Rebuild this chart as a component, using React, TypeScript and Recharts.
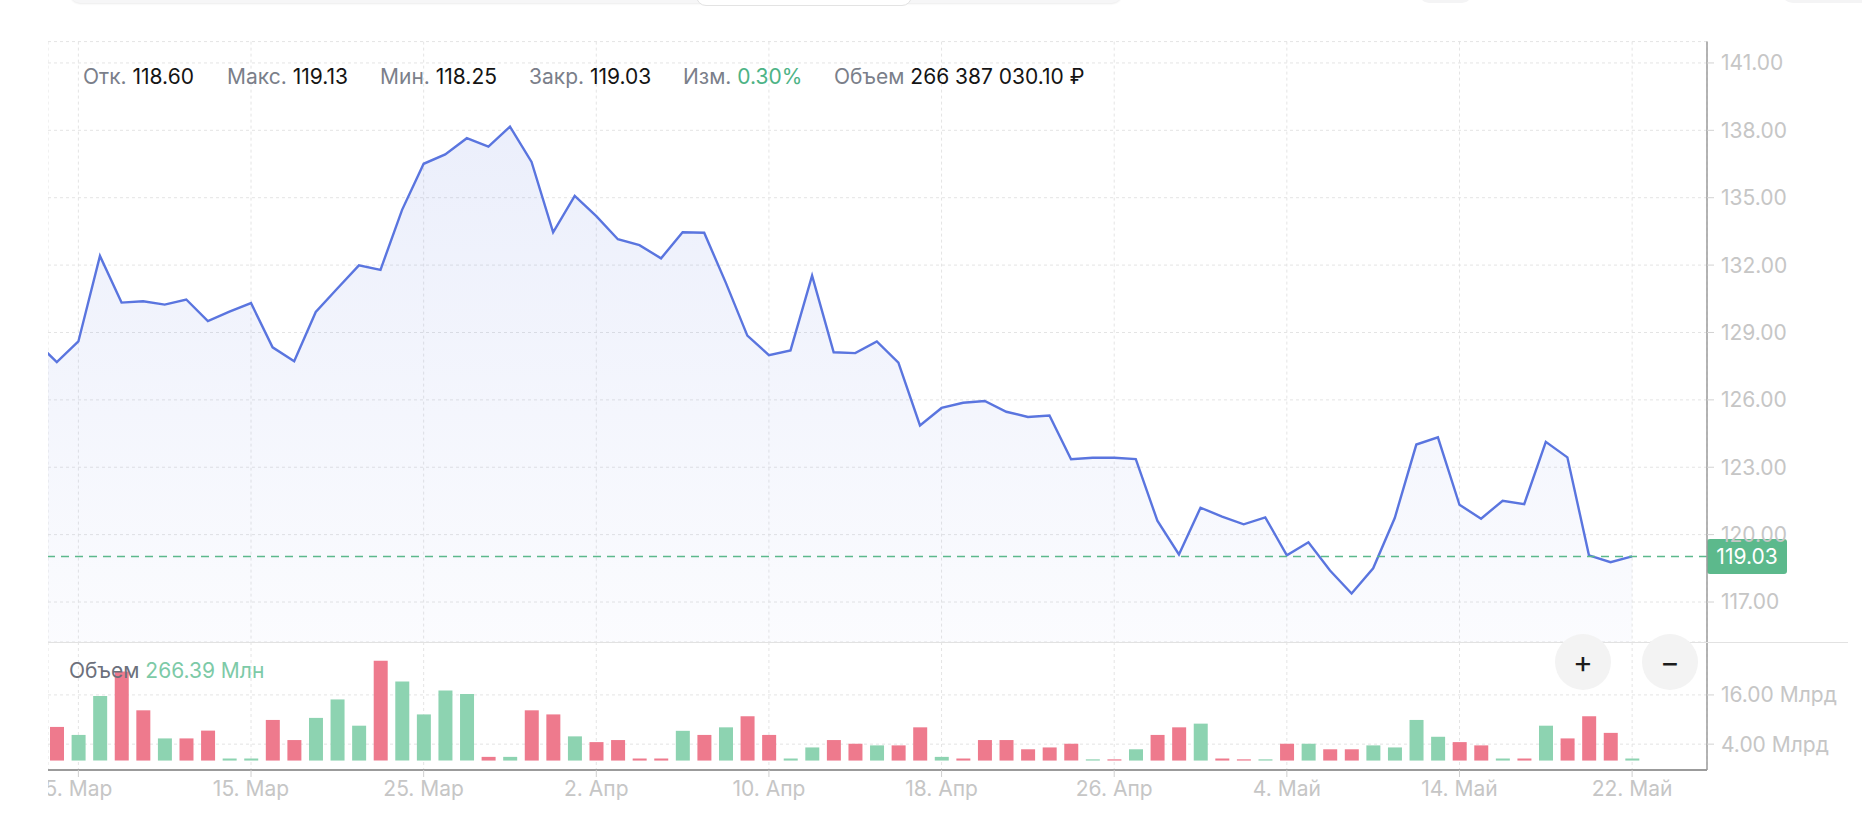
import React from 'react';
import { AreaChart, Area, BarChart, Bar, Cell, XAxis, YAxis, CartesianGrid, ReferenceLine } from 'recharts';

// ---------- data ----------
const dates = [
  '3. Мар', '4. Мар', '5. Мар', '6. Мар', '9. Мар', '10. Мар', '11. Мар', '12. Мар', '13. Мар', '14. Мар',
  '15. Мар', '16. Мар', '17. Мар', '18. Мар', '19. Мар', '20. Мар', '23. Мар', '24. Мар', '25. Мар', '26. Мар',
  '27. Мар', '28. Мар', '29. Мар', '30. Мар', '31. Мар', '1. Апр', '2. Апр', '3. Апр', '4. Апр', '5. Апр',
  '6. Апр', '7. Апр', '8. Апр', '9. Апр', '10. Апр', '11. Апр', '12. Апр', '13. Апр', '14. Апр', '15. Апр',
  '16. Апр', '17. Апр', '18. Апр', '19. Апр', '20. Апр', '21. Апр', '22. Апр', '23. Апр', '24. Апр', '25. Апр',
  '26. Апр', '27. Апр', '28. Апр', '29. Апр', '30. Апр', '1. Май', '2. Май', '3. Май', '4. Май', '5. Май',
  '6. Май', '7. Май', '10. Май', '11. Май', '12. Май', '13. Май', '14. Май', '15. Май', '16. Май', '17. Май',
  '18. Май', '19. Май', '20. Май', '21. Май', '22. Май',
];

const closes = [
  128.62, 127.68, 128.6, 132.41, 130.33, 130.39, 130.24, 130.47, 129.51, 129.93,
  130.31, 128.34, 127.72, 129.91, 130.96, 131.99, 131.79, 134.46, 136.51, 136.93,
  137.65, 137.27, 138.16, 136.59, 133.46, 135.08, 134.18, 133.15, 132.89, 132.3,
  133.46, 133.44, 131.22, 128.86, 127.99, 128.2, 131.53, 128.12, 128.08, 128.6,
  127.66, 124.86, 125.64, 125.87, 125.95, 125.47, 125.24, 125.3, 123.36, 123.42,
  123.42, 123.36, 120.62, 119.12, 121.2, 120.8, 120.46, 120.77, 119.08, 119.66,
  118.4, 117.38, 118.5, 120.74, 124.01, 124.33, 121.33, 120.71, 121.51, 121.36,
  124.13, 123.44, 119.08, 118.77, 119.03,
];

// volume, Млрд
const volumes = [
  null, 8.2, 6.25, 15.75, 21.7, 12.25, 5.4, 5.4, 7.3, 0.5,
  0.5, 9.9, 5.0, 10.4, 14.9, 8.5, 24.3, 19.3, 11.25, 17.1,
  16.25, 0.9, 0.9, 12.25, 11.25, 5.9, 4.5, 5.0, 0.5, 0.5,
  7.25, 6.25, 8.1, 10.8, 6.25, 0.5, 3.2, 5.0, 4.1, 3.7,
  3.7, 8.1, 0.9, 0.5, 5.0, 5.0, 2.75, 3.2, 4.1, 0.3,
  0.3, 2.75, 6.25, 8.1, 9.0, 0.5, 0.3, 0.3, 4.1, 4.1,
  2.75, 2.75, 3.7, 3.2, 9.9, 5.8, 4.5, 3.7, 0.5, 0.5,
  8.5, 5.4, 10.8, 6.75, 0.5,
];

// 1 = growth candle (green), 0 = fall candle (red)
const volumeUp = [
  0, 0, 1, 1, 0, 0, 1, 0, 0, 1,
  1, 0, 0, 1, 1, 1, 0, 1, 1, 1,
  1, 0, 1, 0, 0, 1, 0, 0, 0, 0,
  1, 0, 1, 0, 0, 1, 1, 0, 0, 1,
  0, 0, 1, 0, 0, 0, 0, 0, 0, 1,
  0, 1, 0, 0, 1, 0, 0, 1, 0, 1,
  0, 0, 1, 1, 1, 1, 0, 0, 1, 0,
  1, 0, 0, 0, 1,
];

const tickDates = ['5. Мар', '15. Мар', '25. Мар', '2. Апр', '10. Апр', '18. Апр', '26. Апр', '4. Май', '14. Май', '22. Май'];
const priceTicks = [117, 120, 123, 126, 129, 132, 135, 138, 141];
const volumeTicks = [4, 16];

const statLabels = ['Отк.', 'Макс.', 'Мин.', 'Закр.', 'Изм.', 'Объем'];
const statValues = ['118.60', '119.13', '118.25', '119.03', '0.30%', '266 387 030.10 ₽'];
const volumeCaption = ['Объем', '266.39 Млн'];

// ---------- layout ----------
const FONT = 'Inter, "Noto Sans", sans-serif';
const CLIP_LEFT = 48;
const X_DOMAIN: [number, number] = [-0.408, 76.47];
const PRICE_DOMAIN: [number, number] = [115.22, 141.95];
const VOLUME_DOMAIN: [number, number] = [-2.3, 28.9];
const statX = [83, 227, 380, 529, 683, 834];
const TEXT_SIZE = 21;

const rows = dates.map((d, k) => ({
  i: k - 1,
  date: d,
  close: closes[k],
  volume: volumes[k],
  up: volumeUp[k],
}));
const tickIdx = rows.filter((r) => tickDates.includes(r.date)).map((r) => r.i);
const fmtDate = (v: number) => {
  const r = rows.find((x) => x.i === v);
  return r ? r.date : '';
};
const lastClose = closes[closes.length - 1];

const GREEN = '#8dd3b1';
const RED = '#ee7a8d';
const GRID = '#e4e4e4';
const AXIS = '#9b9b9b';
const LABEL = '#c6c6c6';

const PriceBadge = (props: any) => {
  const vb = props.viewBox || {};
  const x = (vb.x || 0) + (vb.width || 0);
  const y = vb.y || 0;
  return (
    <g>
      <rect x={x} y={y - 17.5} width={80} height={35} rx={3} fill="#5cb98c" />
      <text x={x + 40} y={y} dy="0.36em" textAnchor="middle" fill="#ffffff" fontSize={TEXT_SIZE} fontFamily={FONT}>
        {lastClose.toFixed(2)}
      </text>
    </g>
  );
};

export default function App() {
  return (
    <div
      style={{
        position: 'absolute',
        left: 0,
        top: 0,
        width: 1862,
        height: 820,
        overflow: 'hidden',
        background: '#ffffff',
        fontFamily: FONT,
      }}
    >
      {/* clipped UI elements at the top edge */}
      <div style={{ position: 'absolute', left: 70, top: -40, width: 1052, height: 43, borderRadius: 10, background: '#f6f6f7', boxShadow: '0 1px 2px rgba(0,0,0,0.08)' }} />
      <div style={{ position: 'absolute', left: 696, top: -40, width: 214, height: 44, borderRadius: 10, background: '#ffffff', border: '1px solid #e3e3e3' }} />
      <div style={{ position: 'absolute', left: 1419, top: -40, width: 53, height: 43, borderRadius: 10, background: '#f4f4f5' }} />
      <div style={{ position: 'absolute', left: 1781, top: -40, width: 120, height: 43, borderRadius: 12, background: '#f4f4f5' }} />

      {/* price panel */}
      <div style={{ position: 'absolute', left: CLIP_LEFT, top: 0, width: 1862 - CLIP_LEFT, height: 642, overflow: 'hidden' }}>
        <AreaChart width={1862 - CLIP_LEFT} height={642} data={rows} margin={{ top: 41.6, right: 5, bottom: 0, left: 0 }}>
          <defs>
            <linearGradient id="priceFill" x1="0" y1="0" x2="0" y2="1">
              <stop offset="0%" stopColor="#5b77e0" stopOpacity={0.2} />
              <stop offset="100%" stopColor="#5b77e0" stopOpacity={0.04} />
            </linearGradient>
          </defs>
          <CartesianGrid stroke={GRID} strokeDasharray="3 3" />
          <XAxis
            type="number"
            dataKey="i"
            domain={X_DOMAIN}
            allowDataOverflow
            ticks={tickIdx}
            hide
          />
          <YAxis
            orientation="right"
            width={150}
            domain={PRICE_DOMAIN}
            allowDataOverflow
            ticks={priceTicks}
            tickFormatter={(v: number) => v.toFixed(2)}
            tick={{ fill: LABEL, fontSize: TEXT_SIZE, fontFamily: FONT }}
            tickLine={{ stroke: '#d2d2d2' }}
            tickSize={7}
            tickMargin={7}
            axisLine={{ stroke: AXIS, strokeWidth: 1.5 }}
          />
          <Area
            type="linear"
            dataKey="close"
            stroke="#5a75df"
            strokeWidth={2.4}
            fill="url(#priceFill)"
            dot={false}
            activeDot={false}
            isAnimationActive={false}
          />
          <ReferenceLine
            y={lastClose}
            stroke="#5cb98c"
            strokeWidth={1.5}
            strokeDasharray="8 6"
            label={<PriceBadge />}
          />
        </AreaChart>
      </div>

      {/* volume panel */}
      <div style={{ position: 'absolute', left: CLIP_LEFT, top: 642, width: 1862 - CLIP_LEFT, height: 178, overflow: 'hidden' }}>
        <BarChart width={1862 - CLIP_LEFT} height={178} data={rows} margin={{ top: 0, right: 5, bottom: 0, left: 0 }}>
          <CartesianGrid stroke={GRID} strokeDasharray="3 3" />
          <XAxis
            type="number"
            dataKey="i"
            domain={X_DOMAIN}
            allowDataOverflow
            ticks={tickIdx}
            tickFormatter={fmtDate}
            height={50}
            tick={{ fill: LABEL, fontSize: TEXT_SIZE, fontFamily: FONT }}
            tickLine={{ stroke: '#cfcfcf' }}
            tickSize={7}
            tickMargin={4}
            axisLine={{ stroke: AXIS, strokeWidth: 2 }}
          />
          <YAxis
            orientation="right"
            width={150}
            domain={VOLUME_DOMAIN}
            allowDataOverflow
            ticks={volumeTicks}
            tickFormatter={(v: number) => `${v.toFixed(2)} Млрд`}
            tick={{ fill: LABEL, fontSize: TEXT_SIZE, fontFamily: FONT }}
            tickLine={{ stroke: '#d2d2d2' }}
            tickSize={7}
            tickMargin={7}
            axisLine={{ stroke: AXIS, strokeWidth: 1.5 }}
          />
          <Bar dataKey="volume" barSize={14} isAnimationActive={false}>
            {rows.map((r) => (
              <Cell key={r.i} fill={r.up ? GREEN : RED} />
            ))}
          </Bar>
        </BarChart>
      </div>

      {/* separator */}
      <div style={{ position: 'absolute', left: CLIP_LEFT, top: 642, width: 1800, height: 1, background: '#e2e2e2' }} />

      {/* OHLC legend */}
      {statLabels.map((lab, k) => (
        <div
          key={lab}
          style={{
            position: 'absolute',
            left: statX[k],
            top: 65,
            fontSize: TEXT_SIZE,
            lineHeight: '24px',
            whiteSpace: 'nowrap',
          }}
        >
          <span style={{ color: '#7b7f8a' }}>{lab}</span>{' '}
          <span style={{ color: k === 4 ? '#4db386' : '#141414' }}>{statValues[k]}</span>
        </div>
      ))}

      {/* volume caption */}
      <div style={{ position: 'absolute', left: 69, top: 659, fontSize: TEXT_SIZE, lineHeight: '24px', whiteSpace: 'nowrap' }}>
        <span style={{ color: '#6c707b' }}>{volumeCaption[0]}</span>{' '}
        <span style={{ color: '#7dcaa7' }}>{volumeCaption[1]}</span>
      </div>

      {/* zoom buttons */}
      {['+', '−'].map((g, k) => (
        <div
          key={g}
          style={{
            position: 'absolute',
            left: 1555 + k * 87,
            top: 634,
            width: 56,
            height: 56,
            borderRadius: 28,
            background: '#f3f3f3',
            color: '#1c1c1c',
            fontSize: 30,
            lineHeight: '56px',
            textAlign: 'center',
          }}
        >
          {g}
        </div>
      ))}
    </div>
  );
}
